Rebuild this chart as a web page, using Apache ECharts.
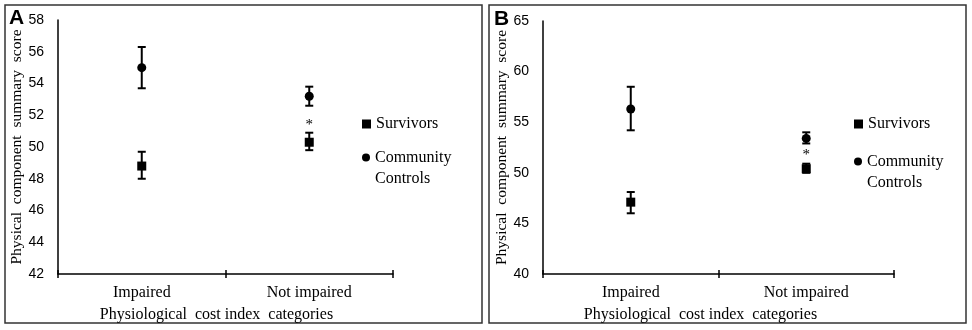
<!DOCTYPE html>
<html>
<head>
<meta charset="utf-8">
<script src="https://cdn.jsdelivr.net/npm/echarts@6/dist/echarts.min.js"></script>
<style>
  html, body { margin: 0; padding: 0; background: #fff; }
  #chart { width: 972px; height: 330px; }
</style>
</head>
<body>
<div id="chart"></div>
<script>
// categories on the x axis
const categories = ['Impaired', 'Not impaired'];

// panel A: means and error bar ends
const survivorsA = [48.8, 50.3];
const survivorsALow = [48.0, 49.8];
const survivorsAHigh = [49.7, 50.9];
const communityA = [55.0, 53.2];
const communityALow = [53.7, 52.6];
const communityAHigh = [56.3, 53.8];

// panel B
const survivorsB = [47.1, 50.4];
const survivorsBLow = [46.0, 50.0];
const survivorsBHigh = [48.1, 50.9];
const communityB = [56.3, 53.4];
const communityBLow = [54.2, 52.9];
const communityBHigh = [58.5, 54.0];

// significance marks (category index, value)
const sigA = [[1, 51.4]];
const sigB = [[1, 51.8]];

// y axis ranges
const yAxisA = { min: 42, max: 58, interval: 2 };
const yAxisB = { min: 40, max: 65, interval: 5 };

const serif = 'Liberation Serif';
const sans = 'Liberation Sans';

const myChart = echarts.init(document.getElementById('chart'));

function errorData(low, high) {
  return low.map((v, i) => [i, v, high[i]]);
}

// vertical bar with caps
function renderErrorBar(params, api) {
  const x = api.value(0);
  const lo = api.coord([x, api.value(1)]);
  const hi = api.coord([x, api.value(2)]);
  const half = 4;
  const style = { stroke: '#000', lineWidth: 2 };
  return {
    type: 'group',
    children: [
      { type: 'line', shape: { x1: lo[0], y1: lo[1], x2: hi[0], y2: hi[1] }, style },
      { type: 'line', shape: { x1: lo[0] - half, y1: lo[1], x2: lo[0] + half, y2: lo[1] }, style },
      { type: 'line', shape: { x1: hi[0] - half, y1: hi[1], x2: hi[0] + half, y2: hi[1] }, style },
    ],
  };
}

function renderStar(params, api) {
  const p = api.coord([api.value(0), api.value(1)]);
  return {
    type: 'text',
    style: {
      x: p[0],
      y: p[1],
      text: '*',
      fill: '#000',
      font: '15px ' + serif,
      align: 'center',
      verticalAlign: 'middle',
    },
  };
}

function xAxisMain(gridIndex, namePad) {
  return {
    type: 'category',
    gridIndex,
    data: categories,
    position: 'bottom',
    boundaryGap: true,
    axisLine: { lineStyle: { color: '#000', width: 1.5 } },
    axisTick: { show: true, length: 4, lineStyle: { color: '#000', width: 1.5 } },
    axisLabel: { color: '#000', fontFamily: serif, fontSize: 16, margin: 11 },
    name: 'Physiological  cost index  categories',
    nameLocation: 'middle',
    nameGap: 33,
    nameTextStyle: { color: '#000', fontFamily: serif, fontSize: 16, padding: [0, namePad, 0, 0] },
  };
}

// second axis only to make the ticks cross the line
function xAxisInnerTicks(gridIndex) {
  return {
    type: 'category',
    gridIndex,
    data: categories,
    position: 'bottom',
    boundaryGap: true,
    axisLine: { show: false },
    axisTick: { show: true, inside: true, length: 4, lineStyle: { color: '#000', width: 1.5 } },
    axisLabel: { show: false },
  };
}

function yAxis(gridIndex, range) {
  return {
    type: 'value',
    gridIndex,
    min: range.min,
    max: range.max,
    interval: range.interval,
    splitLine: { show: false },
    axisLine: { show: true, lineStyle: { color: '#000', width: 1.5 } },
    axisTick: { show: false },
    axisLabel: { color: '#000', fontFamily: sans, fontSize: 14, margin: 14 },
    name: 'Physical  component  summary  score',
    nameLocation: 'middle',
    nameGap: 33,
    nameTextStyle: { color: '#000', fontFamily: serif, fontSize: 15.5 },
  };
}

function panelSeries(xIdx, yIdx, surv, survLo, survHi, comm, commLo, commHi, sig) {
  return [
    {
      type: 'custom',
      xAxisIndex: xIdx,
      yAxisIndex: yIdx,
      renderItem: renderErrorBar,
      encode: { x: 0, y: [1, 2] },
      data: errorData(survLo, survHi),
      z: 2,
      silent: true,
    },
    {
      type: 'custom',
      xAxisIndex: xIdx,
      yAxisIndex: yIdx,
      renderItem: renderErrorBar,
      encode: { x: 0, y: [1, 2] },
      data: errorData(commLo, commHi),
      z: 2,
      silent: true,
    },
    {
      name: 'Survivors',
      type: 'scatter',
      xAxisIndex: xIdx,
      yAxisIndex: yIdx,
      symbol: 'rect',
      symbolSize: 9,
      itemStyle: { color: '#000', opacity: 1 },
      data: surv.map((v, i) => [i, v]),
      z: 3,
    },
    {
      name: 'Community Controls',
      type: 'scatter',
      xAxisIndex: xIdx,
      yAxisIndex: yIdx,
      symbol: 'circle',
      symbolSize: 9,
      itemStyle: { color: '#000', opacity: 1 },
      data: comm.map((v, i) => [i, v]),
      z: 3,
    },
    {
      type: 'custom',
      xAxisIndex: xIdx,
      yAxisIndex: yIdx,
      renderItem: renderStar,
      encode: { x: 0, y: 1 },
      data: sig,
      silent: true,
    },
  ];
}

function legend(left, top, name, icon, size) {
  return {
    left,
    top,
    padding: 0,
    orient: 'vertical',
    itemWidth: size,
    itemHeight: size,
    selectedMode: false,
    data: [{ name, icon, itemStyle: { color: '#000', opacity: 1 } }],
    // blank first line keeps the icon beside the first text line
    formatter: n => (n === 'Community Controls' ? ' \nCommunity\nControls' : n),
    textStyle: { color: '#000', fontFamily: serif, fontSize: 16, lineHeight: 21 },
  };
}

const option = {
  backgroundColor: '#fff',
  animation: false,
  grid: [
    { left: 58, top: 20, width: 335, height: 254 },
    { left: 543, top: 21, width: 351, height: 253 },
  ],
  xAxis: [xAxisMain(0, 18), xAxisInnerTicks(0), xAxisMain(1, 36), xAxisInnerTicks(1)],
  yAxis: [yAxis(0, yAxisA), yAxis(1, yAxisB)],
  legend: [
    legend(362, 113.5, 'Survivors', 'rect', 9),
    legend(362, 126, 'Community Controls', 'circle', 8),
    legend(854, 113.5, 'Survivors', 'rect', 9),
    legend(854, 130, 'Community Controls', 'circle', 8),
  ],
  graphic: [
    { type: 'rect', shape: { x: 5, y: 5, width: 477, height: 318 }, style: { fill: 'none', stroke: '#333', lineWidth: 1.5 } },
    { type: 'rect', shape: { x: 489, y: 5, width: 477, height: 318 }, style: { fill: 'none', stroke: '#333', lineWidth: 1.5 } },
    { type: 'text', left: 9, top: 8, style: { text: 'A', font: 'bold 21px ' + sans, fill: '#000' } },
    { type: 'text', left: 494, top: 9, style: { text: 'B', font: 'bold 21px ' + sans, fill: '#000' } },
  ],
  series: [
    ...panelSeries(0, 0, survivorsA, survivorsALow, survivorsAHigh, communityA, communityALow, communityAHigh, sigA),
    ...panelSeries(2, 1, survivorsB, survivorsBLow, survivorsBHigh, communityB, communityBLow, communityBHigh, sigB),
  ],
};

myChart.setOption(option);
</script>
</body>
</html>
